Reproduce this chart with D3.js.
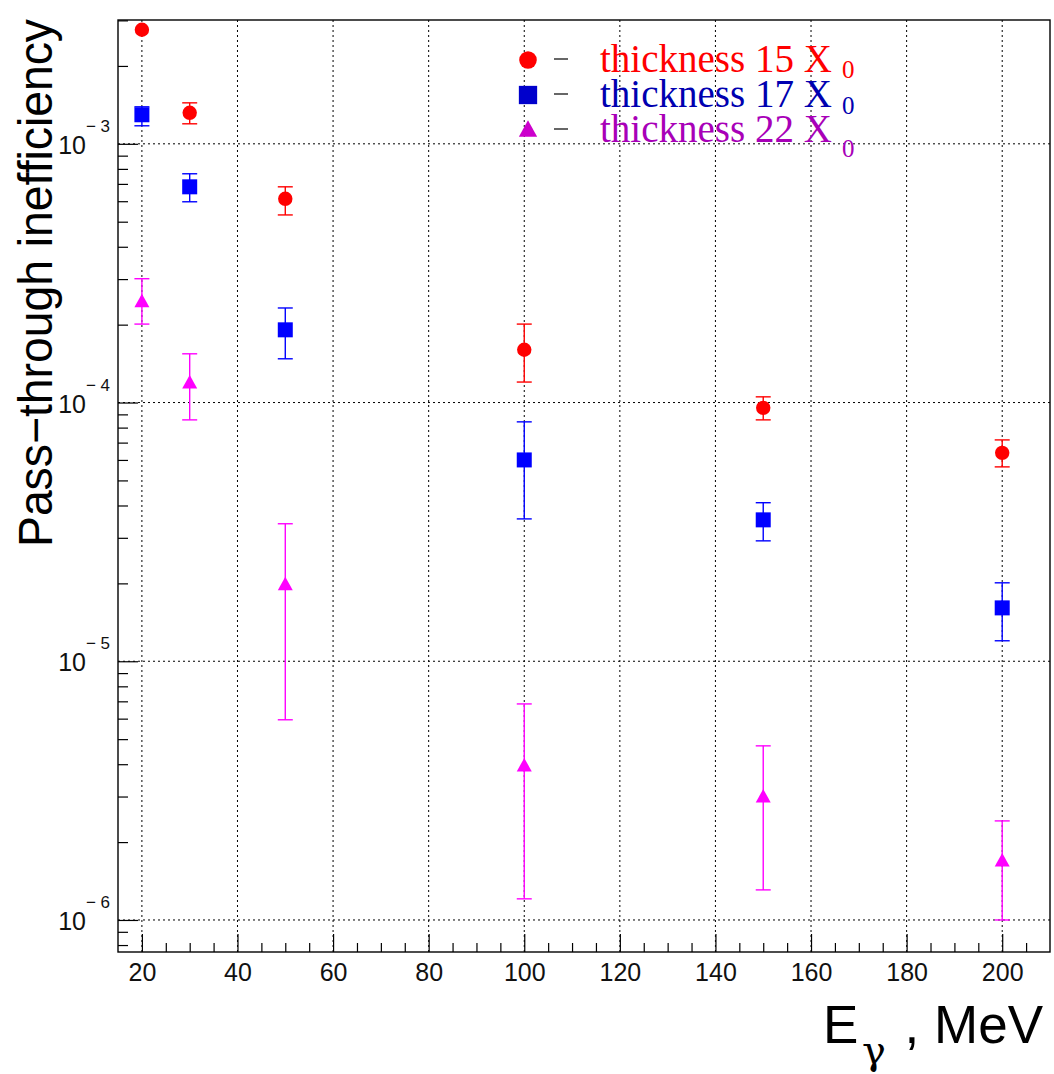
<!DOCTYPE html>
<html><head><meta charset="utf-8">
<script src="https://cdn.jsdelivr.net/npm/d3@7"></script>
<style>body{margin:0;background:#fff}svg{display:block}</style>
</head><body>
<svg id="c" width="1054" height="1074"></svg>
<script>
const energies = [20, 30, 50, 100, 150, 200];
const s15 = [2.76e-3, 1.318e-3, 6.13e-4, 1.60e-4, 9.54e-5, 6.39e-5];
const s15hi = [null, 1.44e-3, 6.82e-4, 2.01e-4, 1.052e-4, 7.17e-5];
const s15lo = [null, 1.195e-3, 5.31e-4, 1.20e-4, 8.57e-5, 5.64e-5];
const s17 = [1.295e-3, 6.82e-4, 1.91e-4, 6.0e-5, 3.52e-5, 1.608e-5];
const s17hi = [1.39e-3, 7.66e-4, 2.32e-4, 8.42e-5, 4.10e-5, 2.01e-5];
const s17lo = [1.174e-3, 5.97e-4, 1.476e-4, 3.55e-5, 2.92e-5, 1.20e-5];
const s22 = [2.45e-4, 1.19e-4, 1.974e-5, 3.94e-6, 2.99e-6, 1.692e-6];
const s22hi = [3.01e-4, 1.543e-4, 3.40e-5, 6.84e-6, 4.71e-6, 2.415e-6];
const s22lo = [2.01e-4, 8.57e-5, 5.94e-6, 1.207e-6, 1.307e-6, 1.0e-6];
const xTicks = [20, 40, 60, 80, 100, 120, 140, 160, 180, 200];
const yExponents = [-3, -4, -5, -6];
const legendLabels = ["thickness 15 X", "thickness 17 X", "thickness 22 X"];

const svg = d3.select("#c");
const L = 118, R = 1050, T = 20, B = 952;
const x = d3.scaleLinear().domain([15, 210]).range([L, R]);
const y = d3.scaleLog().domain([7.52e-7, 3.01e-3]).range([B, T]);

// grid
const grid = svg.append("g").attr("stroke", "#000").attr("stroke-width", 1).attr("stroke-dasharray", "2,3");
xTicks.forEach(t => grid.append("line").attr("x1", x(t)).attr("x2", x(t)).attr("y1", T).attr("y2", B));
yExponents.forEach(e => grid.append("line").attr("x1", L).attr("x2", R).attr("y1", y(Math.pow(10, e))).attr("y2", y(Math.pow(10, e))));

// x axis ticks (inward)
const minorX = d3.range(20, 210, 5).filter(v => v % 20 !== 0);
const xMaj = d3.axisBottom(x).tickValues(xTicks).tickSizeInner(-18).tickSizeOuter(0).tickPadding(8);
const gx = svg.append("g").attr("transform", `translate(0,${B})`).call(xMaj);
gx.select(".domain").remove();
gx.selectAll("line").attr("stroke", "#000").attr("stroke-width", 1.2);
gx.selectAll("text").attr("font-family", "Liberation Sans, Arial, sans-serif").attr("font-size", 25)
  .attr("fill", "#111").attr("dy", null).attr("y", 29);
const xMin = d3.axisBottom(x).tickValues(minorX).tickSizeInner(-9).tickSizeOuter(0).tickFormat("");
const gxm = svg.append("g").attr("transform", `translate(0,${B})`).call(xMin);
gxm.select(".domain").remove();
gxm.selectAll("line").attr("stroke", "#000").attr("stroke-width", 1.2);

// y axis ticks (inward)
const minorY = [];
for (let e = -7; e <= -3; e++) for (let m = 2; m <= 9; m++) { const v = m * Math.pow(10, e); if (v > 7.52e-7 && v < 3.01e-3) minorY.push(v); }
const yMaj = d3.axisLeft(y).tickValues(yExponents.map(e => Math.pow(10, e))).tickSizeInner(-20).tickSizeOuter(0).tickFormat("");
const gy = svg.append("g").attr("transform", `translate(${L},0)`).call(yMaj);
gy.select(".domain").remove();
gy.selectAll("line").attr("stroke", "#000").attr("stroke-width", 1.2);
const yMin = d3.axisLeft(y).tickValues(minorY).tickSizeInner(-10).tickSizeOuter(0).tickFormat("");
const gym = svg.append("g").attr("transform", `translate(${L},0)`).call(yMin);
gym.select(".domain").remove();
gym.selectAll("line").attr("stroke", "#000").attr("stroke-width", 1.2);

// y labels 10^e
yExponents.forEach(e => {
  const yy = y(Math.pow(10, e));
  svg.append("text").attr("x", 86).attr("y", yy + 10).attr("text-anchor", "end")
    .attr("font-family", "Liberation Sans, Arial, sans-serif").attr("font-size", 25).attr("fill", "#111").text("10");
  svg.append("text").attr("x", 86).attr("y", yy - 12)
    .attr("font-family", "Liberation Sans, Arial, sans-serif").attr("font-size", 17).attr("fill", "#111")
    .attr("textLength", 24).attr("lengthAdjust", "spacing").text("\u2212" + Math.abs(e));
});

// frame
svg.append("rect").attr("x", L).attr("y", T).attr("width", R - L).attr("height", B - T)
  .attr("fill", "none").attr("stroke", "#000").attr("stroke-width", 1.4);

// series
const series = [
  {v: s15, hi: s15hi, lo: s15lo, color: "#ff0000", shape: "circle"},
  {v: s17, hi: s17hi, lo: s17lo, color: "#0000ff", shape: "square"},
  {v: s22, hi: s22hi, lo: s22lo, color: "#ff00ff", shape: "triangle"}
];
function marker(g, shape, cx, cy, color, k) {
  k = k || 1;
  if (shape === "circle") g.append("circle").attr("cx", cx).attr("cy", cy).attr("r", 7.2 * k).attr("fill", color);
  else if (shape === "square") g.append("rect").attr("x", cx - 7.5 * k).attr("y", cy - 7.5 * k).attr("width", 15 * k).attr("height", 15 * k).attr("fill", color);
  else g.append("path").attr("d", `M${cx},${cy - 8 * k}L${cx + 7.5 * k},${cy + 5.5 * k}L${cx - 7.5 * k},${cy + 5.5 * k}Z`).attr("fill", color);
}
series.forEach(s => {
  const g = svg.append("g");
  energies.forEach((e, i) => {
    const cx = x(e);
    if (s.hi[i] != null) {
      g.append("line").attr("x1", cx).attr("x2", cx).attr("y1", y(s.hi[i])).attr("y2", y(s.lo[i])).attr("stroke", s.color).attr("stroke-width", 1.4);
      [s.hi[i], s.lo[i]].forEach(v => g.append("line").attr("x1", cx - 7.5).attr("x2", cx + 7.5).attr("y1", y(v)).attr("y2", y(v)).attr("stroke", s.color).attr("stroke-width", 1.4));
    }
    marker(g, s.shape, cx, y(s.v[i]), s.color);
  });
});

// legend
const legColors = ["#ff0000", "#0000b0", "#a800b8"];
const legMark = ["#ff0000", "#0000cc", "#cc00cc"];
const legY = [60, 95, 130];
const subDy = [6, 7, 15];
legendLabels.forEach((lab, i) => {
  marker(svg, series[i].shape, 528, legY[i], legMark[i], 1.22);
  svg.append("line").attr("x1", 554).attr("x2", 568).attr("y1", legY[i] - 1).attr("y2", legY[i] - 1).attr("stroke", "#000").attr("stroke-width", 1.2);
  svg.append("text").attr("x", 600).attr("y", legY[i] + 12).attr("font-family", "Liberation Serif, Times New Roman, serif")
    .attr("font-size", 39).attr("fill", legColors[i]).text(lab);
  svg.append("text").attr("x", 842).attr("y", legY[i] + 12 + subDy[i]).attr("font-family", "Liberation Serif, Times New Roman, serif")
    .attr("font-size", 25).attr("fill", legColors[i]).text("0");
});

// axis titles
svg.append("text").attr("transform", "translate(52,547) rotate(-90)")
  .attr("font-family", "Liberation Sans, Arial, sans-serif").attr("font-size", 48).attr("fill", "#000")
  .attr("textLength", 528).attr("lengthAdjust", "spacingAndGlyphs").text("Pass\u2212through inefficiency");
svg.append("text").attr("x", 823).attr("y", 1043).attr("font-family", "Liberation Sans, Arial, sans-serif")
  .attr("font-size", 53).attr("fill", "#000").text("E");
svg.append("text").attr("x", 862).attr("y", 1064).attr("font-family", "DejaVu Serif, serif")
  .attr("font-size", 40).attr("fill", "#000").text("\u03b3");
svg.append("text").attr("x", 1043).attr("y", 1043).attr("text-anchor", "end").attr("font-family", "Liberation Sans, Arial, sans-serif")
  .attr("font-size", 53).attr("fill", "#000").text(", MeV");
</script>
</body></html>
